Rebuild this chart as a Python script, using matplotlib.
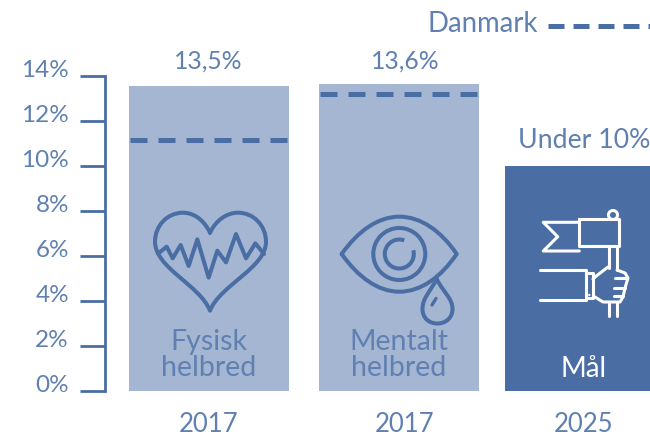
import matplotlib
matplotlib.use('Agg')
import matplotlib.pyplot as plt
import matplotlib.transforms as mtrans
from matplotlib.patches import Circle, PathPatch, Arc
from matplotlib.path import Path

plt.rcParams['font.family'] = ['Lato', 'DejaVu Sans']

years = ['2017', '2017', '2025']
values = [13.55, 13.65, 10]
value_labels = ['13,5%', '13,6%', 'Under 10%']
danmark = [11.17, 13.2]
names = ['Fysisk\nhelbred', 'Mentalt\nhelbred', 'Mål']
yticks = [0, 2, 4, 6, 8, 10, 12, 14]

DARK = '#4A6EA4'
TEXT = '#5F80B1'
LIGHT = '#A4B6D2'
W, H = 650, 437

fig = plt.figure(figsize=(6.5, 4.37), dpi=100)
ax = fig.add_axes([105 / W, (H - 391) / H, (W - 105) / W, 315 / H])
ax.set_xlim(105, 650)
ax.set_ylim(0, 14)
ax.patch.set_visible(False)

lefts = [129, 319, 505]
widths = [160, 160, 145]
ax.bar(lefts, values, widths, align='edge', color=[LIGHT, LIGHT, DARK], clip_on=False)

dash = (0, (3.4, 2.2))
for l, w, d in zip(lefts, widths, danmark):
    ax.plot([l + 1, l + w - 2], [d, d], color=DARK, lw=3.6, ls=dash, dash_capstyle='butt')

for s in ['top', 'right', 'bottom']:
    ax.spines[s].set_visible(False)
ax.spines['left'].set_color(DARK)
ax.spines['left'].set_linewidth(2)
ax.set_xticks([])
ax.set_yticks(yticks)
ax.set_yticklabels([f'{t}%' for t in yticks], fontsize=17.5, color=TEXT)
ax.tick_params(axis='y', length=18, width=2, color=DARK, pad=8)
# labels sit a bit above their ticks in the original
shift = mtrans.ScaledTranslation(0, 7.5 / 100, fig.dpi_scale_trans)
for lab in ax.get_yticklabels():
    lab.set_transform(lab.get_transform() + shift)

# overlay in pixel coords for text and icons
ov = fig.add_axes([0, 0, 1, 1])
ov.set_xlim(0, W)
ov.set_ylim(H, 0)
ov.axis('off')
ov.patch.set_visible(False)

def txt(x, y, s, size=18.5, color=TEXT, ha='center', **kw):
    ov.text(x, y, s, fontsize=size, color=color, ha=ha, va='center', **kw)

txt(208, 61, value_labels[0], size=17.7)
txt(405, 61, value_labels[1], size=17.7)
txt(584, 141, value_labels[2], size=19.2)
for x, s in zip([209, 405, 584], years):
    txt(x, 424, s)
txt(209, 355, names[0], size=20.5, linespacing=0.98)
txt(399, 355, names[1], size=20.5, linespacing=0.98)
txt(584, 369, names[2], size=20, color='white')
txt(428, 24, 'Danmark', size=19.8, ha='left')
ov.plot([548, 650], [26, 26], color=DARK, lw=3.6, ls=(0, (3.2, 1.8)), dash_capstyle='butt')

def curve(verts, codes, color=DARK, lw=2.9):
    ov.add_patch(PathPatch(Path(verts, codes), fc='none', ec=color, lw=lw,
                           capstyle='round', joinstyle='round'))

def poly(pts, color=DARK, lw=2.9):
    ov.plot(*zip(*pts), color=color, lw=lw, solid_capstyle='round', solid_joinstyle='round')

# heart icon
M, C = Path.MOVETO, Path.CURVE4
heart = [(210, 232.7), (204, 220), (194, 212.7), (183, 212.7), (167, 212.7), (155, 226), (155, 241.7),
         (155, 268), (200, 285), (210, 310.7), (220, 285), (266, 268), (266, 241.7),
         (266, 226), (254, 212.7), (238, 212.7), (227, 212.7), (216, 220), (210, 232.7)]
curve(heart, [M] + [C] * 18)
ecg = [(88, 188), (110, 170), (128, 205), (152, 165), (176, 228), (202, 148), (236, 263),
       (262, 182), (288, 217), (318, 132), (348, 205), (376, 160), (402, 192)]
poly([(x / 3 + 130, y / 3 + 190) for x, y in ecg])

# eye icon
eye = [(341.7, 254), (358, 231), (378, 216.7), (399.3, 216.7), (421, 216.7), (441, 231), (456.7, 254),
       (441, 277), (421, 291.7), (399.3, 291.7), (378, 291.7), (358, 277), (341.7, 254)]
curve(eye, [M] + [C] * 12)
ov.add_patch(Circle((399.3, 254), 26, fc='none', ec=DARK, lw=2.9))
ov.add_patch(Arc((399.3, 254), 29, 29, theta1=-15, theta2=290, ec=DARK, lw=2.9))
tear = [(436.7, 279), (430, 292), (422.5, 298), (422.5, 309), (422.5, 318), (429, 323.5), (437.3, 323.5),
        (445.5, 323.5), (452.5, 318), (452.5, 309), (452.5, 298), (443, 292), (436.7, 279)]
curve(tear, [M] + [C] * 12)
poly([(436, 298.5), (432, 305)], lw=2.4)

# flag and hand icon
poly([(579.3, 219.3), (619.3, 219.3), (619.3, 246), (579.3, 246), (579.3, 219.3)], 'white', 2.2)
poly([(579.3, 222.3), (543.3, 222.3), (557.7, 236.7), (543.3, 251), (579.3, 251)], 'white', 2.2)
poly([(609.3, 246), (609.3, 268)], 'white', 2.2)
poly([(617, 246), (617, 270)], 'white', 2.2)
poly([(609.3, 303), (609.3, 316)], 'white', 2.2)
poly([(617, 303), (617, 316)], 'white', 2.2)
ov.add_patch(Arc((613, 215), 9, 9, theta1=0, theta2=360, ec='white', lw=2.2))
poly([(540, 270), (586, 270), (586, 300), (540, 300)], 'white', 2.2)
poly([(586, 273), (593, 273), (593, 298), (586, 298)], 'white', 2.2)
poly([(595, 277), (608, 267)], 'white', 2.2)
poly([(595, 297), (603, 302), (620, 302), (623, 297), (625, 288), (628, 278), (625, 273), (617, 270)], 'white', 2.2)
poly([(593, 279), (595, 277)], 'white', 2.2)
for y0, x0, x1 in [(278, 615, 627), (288, 614, 625), (296, 614, 623)]:
    poly([(x0, y0), (x1, y0)], 'white', 2.2)
ov.add_patch(Circle((589.3, 295), 1.2, fc='white', ec='none'))

fig.savefig('out.png', dpi=100)
